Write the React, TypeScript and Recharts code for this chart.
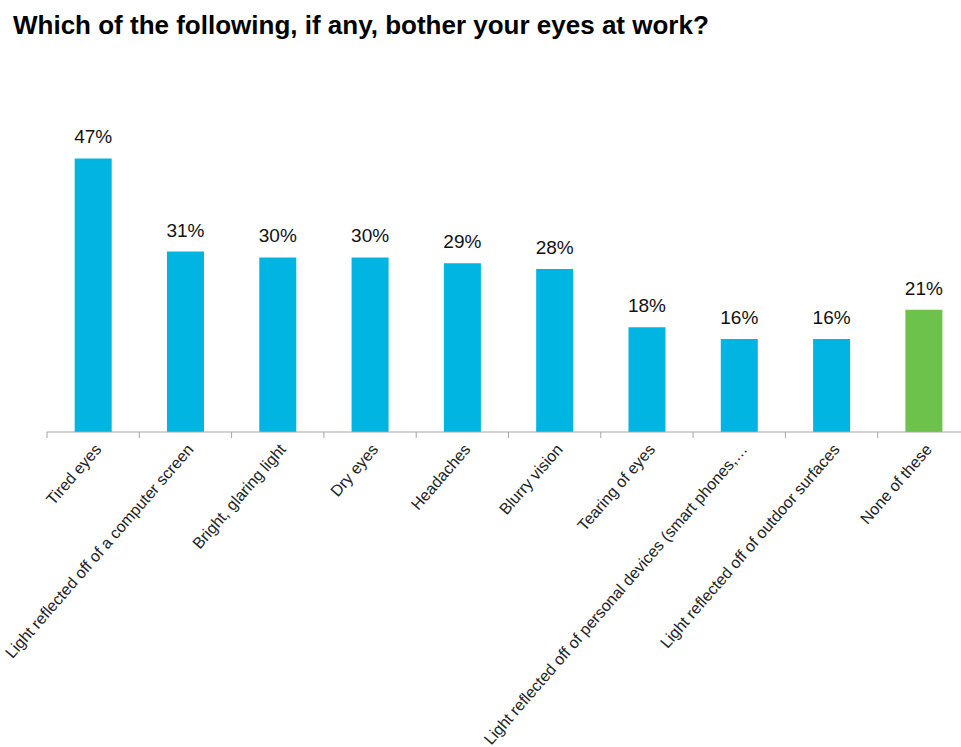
import { Bar, BarChart, Cell, LabelList, XAxis, YAxis } from "recharts";

const categories = [
  "Tired eyes",
  "Light reflected off of a computer screen",
  "Bright, glaring light",
  "Dry eyes",
  "Headaches",
  "Blurry vision",
  "Tearing of eyes",
  "Light reflected off of personal devices (smart phones,…",
  "Light reflected off of outdoor surfaces",
  "None of these",
];
const shares = [47, 31, 30, 30, 29, 28, 18, 16, 16, 21];
const yDomain = [0, 50];

const data = categories.map((name, i) => ({ name, value: shares[i] }));

const FONT = '"Liberation Sans", Arial, sans-serif';
const BLUE = "#00B5E2";
const GREEN = "#6CC24A";
const AXIS = "#A6A6A6";

const CHART_W = 975;
const CHART_H = 747;
const MARGIN = { top: 141, right: 5, bottom: 15, left: 47 };
const STEP = (CHART_W - MARGIN.left - MARGIN.right) / categories.length;

function CategoryTick({ x, y, payload }: any) {
  return (
    <g>
      <line x1={x - STEP / 2} x2={x - STEP / 2} y1={y} y2={y + 6} stroke={AXIS} />
      <g transform={`translate(${x + 9},${y + 18})`}>
        <text textAnchor="end" transform="rotate(-49)" fontSize={16} fill="#222" fontFamily={FONT}>
          {payload.value}
        </text>
      </g>
    </g>
  );
}

export default function App() {
  return (
    <div
      style={{
        position: "fixed",
        left: 0,
        top: 0,
        width: 961,
        height: 747,
        overflow: "hidden",
        background: "#fff",
        fontFamily: FONT,
      }}
    >
      <div style={{ position: "absolute", left: 13, top: 10, fontSize: 26, fontWeight: "bold", color: "#000", whiteSpace: "nowrap" }}>
        Which of the following, if any, bother your eyes at work?
      </div>
      <div style={{ position: "absolute", left: 0, top: 0 }}>
        <BarChart width={CHART_W} height={CHART_H} data={data} margin={MARGIN} barCategoryGap="30%">
          <YAxis hide domain={yDomain} />
          <XAxis
            dataKey="name"
            interval={0}
            height={300}
            tickSize={0}
            tickMargin={0}
            tickLine={false}
            axisLine={{ stroke: AXIS }}
            tick={<CategoryTick />}
          />
          <Bar dataKey="value" isAnimationActive={false}>
            {data.map((d) => (
              <Cell key={d.name} fill={d.name === "None of these" ? GREEN : BLUE} />
            ))}
            <LabelList
              dataKey="value"
              position="top"
              offset={15}
              formatter={(v: any) => `${v}%`}
              fill="#111"
              fontSize={19}
              fontFamily={FONT}
            />
          </Bar>
        </BarChart>
      </div>
    </div>
  );
}
